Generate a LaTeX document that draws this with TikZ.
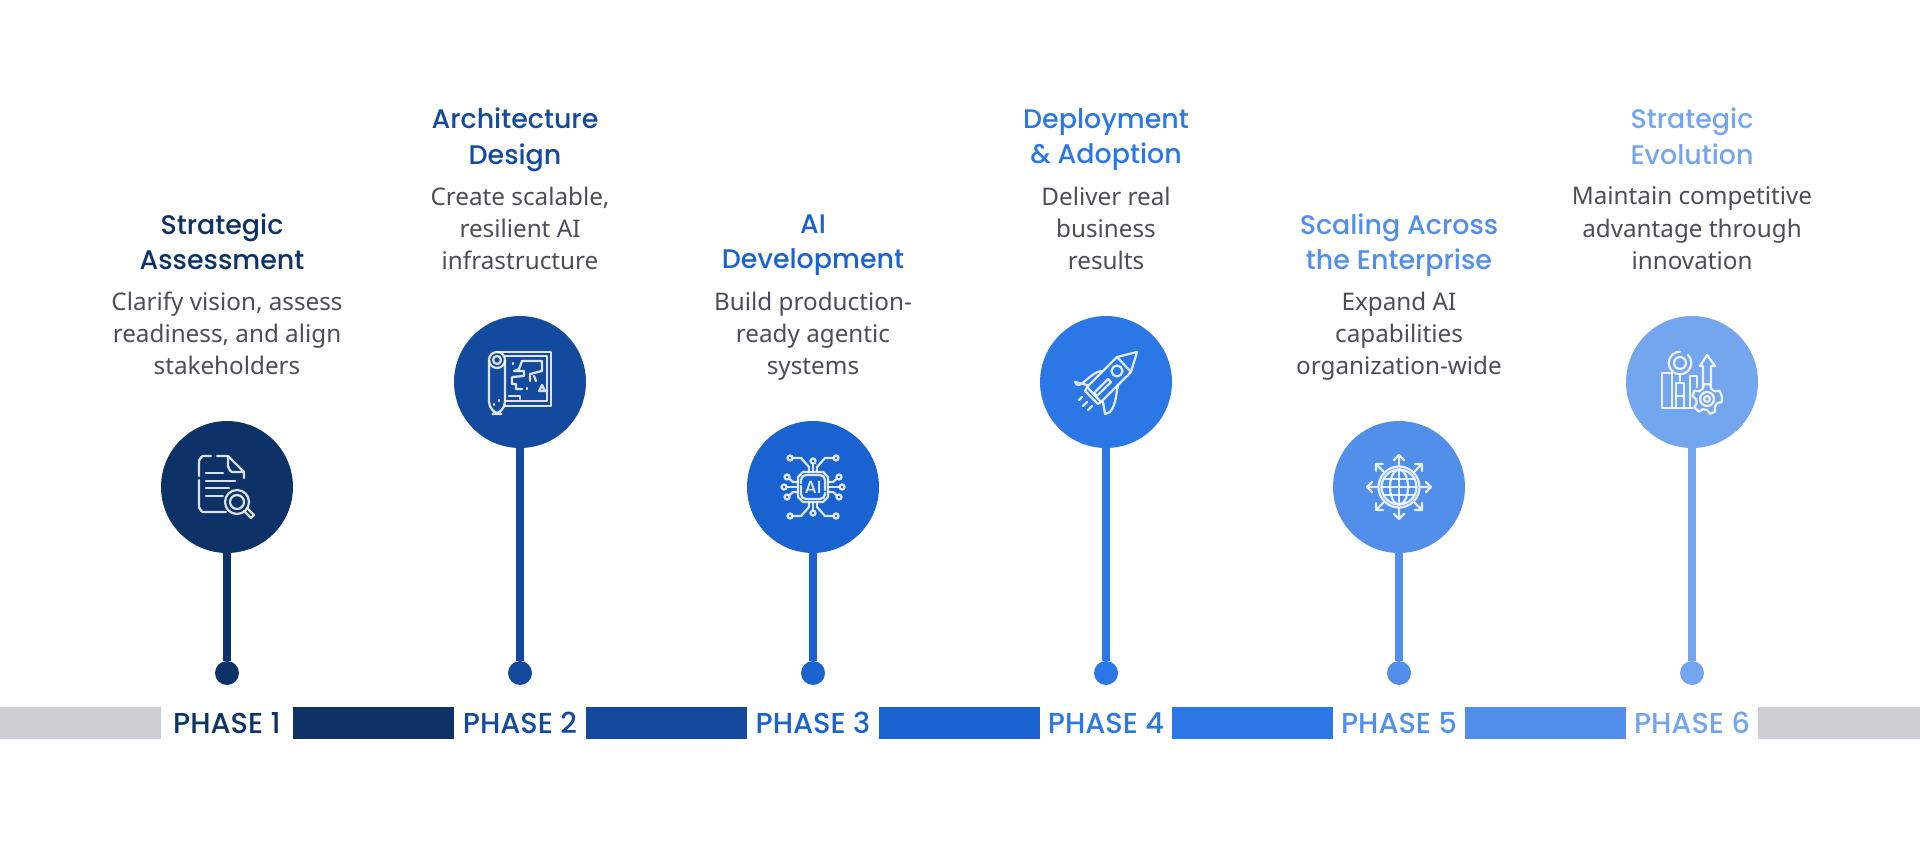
\documentclass[tikz,border=0pt]{standalone}
\usepackage{fontspec}
\setmainfont{Noto Sans}
\newfontfamily\titlefont{Poppins Medium}
\definecolor{phaseone}{HTML}{0D3268}
\definecolor{phasetwo}{HTML}{134A9E}
\definecolor{phasethree}{HTML}{1A62D0}
\definecolor{phasefour}{HTML}{2B77E5}
\definecolor{phasefive}{HTML}{528FEB}
\definecolor{phasesix}{HTML}{74A5EF}
\definecolor{bargray}{HTML}{CBCED2}
\definecolor{bodygray}{HTML}{4A4E57}
\tikzset{
	phasecircle/.style={circle, minimum size=2.64cm, inner sep=0pt},
	phasedot/.style={circle, minimum size=0.48cm, inner sep=0pt},
	phasestem/.style={line width=0.16cm},
	phasetitle/.style={align=center, font=\titlefont\fontsize{15.3}{20.4}\selectfont, execute at begin node=\strut, execute at end node=\strut},
	phasebody/.style={align=center, text=bodygray, font=\fontsize{13.8}{18.4}\selectfont, execute at begin node=\strut, execute at end node=\strut},
	phaselabel/.style={font=\titlefont\fontsize{16.4}{18}\selectfont},
	iconline/.style={draw=white, draw opacity=0.85, line width=0.045cm, line cap=round, line join=round}
}
\begin{document}
\begin{tikzpicture}[x=0.02cm, y=-0.02cm]
	\useasboundingbox (0,0) rectangle (1920,841);

	\fill[bargray] (0,707) rectangle (161,739);
	\fill[phaseone] (293,707) rectangle (454,739);
	\fill[phasetwo] (586,707) rectangle (747,739);
	\fill[phasethree] (879,707) rectangle (1040,739);
	\fill[phasefour] (1172,707) rectangle (1333,739);
	\fill[phasefive] (1465,707) rectangle (1626,739);
	\fill[bargray] (1758,707) rectangle (1920,739);

	\node[phaselabel, text=phaseone] (label1) at (227,723) {PHASE 1};
	\node[phaselabel, text=phasetwo] (label2) at (520,723) {PHASE 2};
	\node[phaselabel, text=phasethree] (label3) at (813,723) {PHASE 3};
	\node[phaselabel, text=phasefour] (label4) at (1106,723) {PHASE 4};
	\node[phaselabel, text=phasefive] (label5) at (1399,723) {PHASE 5};
	\node[phaselabel, text=phasesix] (label6) at (1692,723) {PHASE 6};

	\node[phasecircle, fill=phaseone] (circle1) at (227,487) {};
	\node[phasecircle, fill=phasetwo] (circle2) at (520,382) {};
	\node[phasecircle, fill=phasethree] (circle3) at (813,487) {};
	\node[phasecircle, fill=phasefour] (circle4) at (1106,382) {};
	\node[phasecircle, fill=phasefive] (circle5) at (1399,487) {};
	\node[phasecircle, fill=phasesix] (circle6) at (1692,382) {};

	\node[phasedot, fill=phaseone] (dot1) at (227,673) {};
	\node[phasedot, fill=phasetwo] (dot2) at (520,673) {};
	\node[phasedot, fill=phasethree] (dot3) at (813,673) {};
	\node[phasedot, fill=phasefour] (dot4) at (1106,673) {};
	\node[phasedot, fill=phasefive] (dot5) at (1399,673) {};
	\node[phasedot, fill=phasesix] (dot6) at (1692,673) {};

	\draw[phasestem, phaseone] (circle1) -- (dot1);
	\draw[phasestem, phasetwo] (circle2) -- (dot2);
	\draw[phasestem, phasethree] (circle3) -- (dot3);
	\draw[phasestem, phasefour] (circle4) -- (dot4);
	\draw[phasestem, phasefive] (circle5) -- (dot5);
	\draw[phasestem, phasesix] (circle6) -- (dot6);

	\node[phasetitle, text=phaseone] (title1) at (222,247) {Strategic\\Assessment};
	\node[phasetitle, text=phasetwo] (title2) at (515,141.5) {Architecture\\Design};
	\node[phasetitle, text=phasethree] (title3) at (813,247) {AI\\Development};
	\node[phasetitle, text=phasefour] (title4) at (1106,141.5) {Deployment\\\& Adoption};
	\node[phasetitle, text=phasefive] (title5) at (1399,247) {Scaling Across\\the Enterprise};
	\node[phasetitle, text=phasesix] (title6) at (1692,141.5) {Strategic\\Evolution};

	\node[phasebody] (body1) at (227,338) {Clarify vision, assess\\readiness, and align\\stakeholders};
	\node[phasebody] (body2) at (520,233) {Create scalable,\\resilient AI\\infrastructure};
	\node[phasebody] (body3) at (813,338) {Build production-\\ready agentic\\systems};
	\node[phasebody] (body4) at (1106,233) {Deliver real\\business\\results};
	\node[phasebody] (body5) at (1399,338) {Expand AI\\capabilities\\organization-wide};
	\node[phasebody] (body6) at (1692,233) {Maintain competitive\\advantage through\\innovation};

	\begin{scope}[shift={(227,487)}, iconline]
		\draw (-10,-31) -- (1,-31) (-16,-31) -- (-24,-31) to[out=180,in=-90] (-28,-27) -- (-28,-11);
		\draw (-28,-7) -- (-28,21) to[out=90,in=180] (-24,25) -- (-1,25);
		\draw (1,-31) -- (17,-15) -- (17,-9) (1,-31) -- (1,-20) to[out=90,in=180] (5,-15) -- (17,-15);
		\draw (-21,-14) -- (-4,-14) (-21,-6) -- (8,-6) (-21,1) -- (2,1) (-21,9) -- (-4,9);
		\draw (10,15) circle (12) (10,15) circle (7);
		\draw (17,24) -- (24,31) -- (27,28) -- (20,21);
	\end{scope}

	\begin{scope}[shift={(520,382)}, iconline]
		\draw[rounded corners=2.5mm] (-31,-22) -- (-31,32) -- (-15,32) -- (-15,-22);
		\draw (-23,-22) circle (8) (-23,-22) circle (4);
		\draw (-23,-30) -- (31,-30) -- (31,24) -- (-15,24);
		\draw (-15,-26) -- (27,-26) -- (27,19) -- (-15,19);
		\draw (-7,-19) -- (-7,-18) (-26,22) -- (-26,23) (-21,18) -- (-21,19) (7,6) -- (7,7);
		\draw (2,-21) -- (22,-21) -- (22,-11) -- (10,-8) -- (10,-1);
		\draw (2,-21) -- (-1,-13) -- (-6,-11) -- (4,-11) -- (4,-6) -- (-8,-5) -- (-8,2) -- (-4,2) -- (-4,7) -- (2,7);
		\draw (14,-6) -- (16,-1) (19,9) -- (22,3) -- (25,9) -- cycle;
		\draw (-11,14) -- (0,14) -- (0,17);
	\end{scope}

	\begin{scope}[shift={(813,487)}, iconline]
		\draw (-10,-15) -- (10,-15) -- (15,-10) -- (15,10) -- (10,15) -- (-10,15) -- (-15,10) -- (-15,-10) -- cycle;
		\draw[rounded corners=1mm] (-12,-4) -- (-12,-12) -- (12,-12) -- (12,3) (12,6) -- (12,12) -- (-12,12) -- (-12,-1);
		\node[text=white, opacity=0.85, inner sep=0pt, font=\titlefont\fontsize{10}{10}\selectfont] (chipai) at (0,0) {AI};
		\draw (0,-15) -- (0,-23.5) (0,15) -- (0,23.5);
		\draw (-4,-15) -- (-4,-20) -- (-12,-29) -- (-20.5,-29) (4,-15) -- (4,-20) -- (12,-29) -- (20.5,-29);
		\draw (-4,15) -- (-4,20) -- (-12,29) -- (-20.5,29) (4,15) -- (4,20) -- (12,29) -- (20.5,29);
		\draw (-15,0) -- (-26.5,0) (15,0) -- (26.5,0);
		\draw (-15,-5) -- (-20,-5) -- (-24,-8.5) (15,-5) -- (20,-5) -- (24,-8.5);
		\draw (-15,5) -- (-20,5) -- (-24,8.5) (15,5) -- (20,5) -- (24,8.5);
		\draw (-23,-29) circle (2.5) (0,-26) circle (2.5) (23,-29) circle (2.5);
		\draw (-23,29) circle (2.5) (0,26) circle (2.5) (23,29) circle (2.5);
		\draw (-26,-10) circle (2.5) (-29,0) circle (2.5) (-26,10) circle (2.5);
		\draw (26,-10) circle (2.5) (29,0) circle (2.5) (26,10) circle (2.5);
	\end{scope}

	\begin{scope}[shift={(1106,382)}, iconline]
		\draw (11,-25) -- (31,-30) -- (25,-10) -- cycle;
		\draw (11,-25) -- (-19,5) (25,-10) -- (-5,20) (-19,5) -- (-5,20);
		\draw (11,-11) circle (5.5);
		\draw (-4,-11) to[out=180,in=-70] (-31,0) -- (-19,3);
		\draw (12,6) to[out=95,in=0,looseness=1.2] (-1,32) -- (-3,20);
		\draw (2,-3) -- (-12,11) -- (-9,14) -- (5,0) -- cycle;
		\draw (-19,5) -- (-21,9) -- (-8,22) -- (-5,20);
		\draw (-27,18) -- (-24,15) (-23,24) -- (-19,20) (-18,28) -- (-14,24);
	\end{scope}

	\begin{scope}[shift={(1399,487)}, iconline]
		\draw (0,0) circle (20.5) (0,0) circle (17.5);
		\draw (0,0) ellipse (9 and 17.5);
		\draw (0,-17.5) -- (0,17.5) (-17.5,0) -- (17.5,0);
		\draw (-15,-8) -- (15,-8) (-15,8) -- (15,8);
		\draw (0,-22) -- (0,-32) (-5,-27) -- (0,-32) -- (5,-27);
		\draw (0,22) -- (0,32) (-5,27) -- (0,32) -- (5,27);
		\draw (-22,0) -- (-32,0) (-27,-5) -- (-32,0) -- (-27,5);
		\draw (22,0) -- (32,0) (27,-5) -- (32,0) -- (27,5);
		\draw (-16,-16) -- (-23,-23) (-23,-16) -- (-23,-23) -- (-16,-23);
		\draw (16,-16) -- (23,-23) (23,-16) -- (23,-23) -- (16,-23);
		\draw (-16,16) -- (-23,23) (-23,16) -- (-23,23) -- (-16,23);
		\draw (16,16) -- (23,23) (23,16) -- (23,23) -- (16,23);
	\end{scope}

	\begin{scope}[shift={(1692,382)}, iconline]
		\draw (-20,-9) -- (-30,-9) -- (-30,26) -- (1,26);
		\draw (-20,-9) -- (-20,26) (-16,26) -- (-16,1) -- (-8,1) -- (-8,26);
		\draw (-2,26) -- (-2,-6) -- (5,-6) -- (5,5);
		\draw (-12,-19) circle (6);
		\draw (-4,-27) arc (-45:270:11.3);
		\draw (-12,-8) -- (-12,1) (-16,14) -- (-8,14);
		\draw (11,6) -- (11,-16) -- (8,-16) -- (15,-27) -- (23,-16) -- (19,-16) -- (19,3);
		\draw[shift={(15,17)}] (0:15) -- (12:15) -- (22:11) -- (45:11) -- (57:15) -- (78:15) -- (90:11) -- (112:11) -- (123:15) -- (147:15) -- (158:11) -- (180:11) -- (192:15) -- (213:15) -- (225:11) -- (247:11) -- (258:15) -- (282:15) -- (292:11) -- (315:11) -- (327:15) -- (348:15) -- cycle;
		\draw (15,17) circle (7) (15,17) circle (3);
	\end{scope}
\end{tikzpicture}
\end{document}
